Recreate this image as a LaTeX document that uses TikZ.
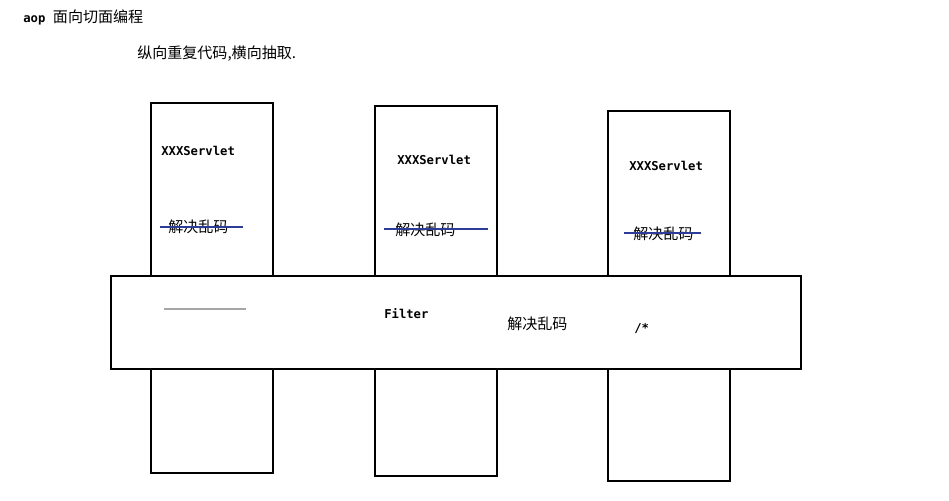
\documentclass[tikz,border=0pt]{standalone}
\usepackage{fontspec}
\usetikzlibrary{positioning}
\newfontfamily\cjk{Noto Sans CJK SC}
\newfontfamily\codefont{DejaVu Sans Mono}
\definecolor{strikeblue}{RGB}{45,60,150}
\begin{document}
\begin{tikzpicture}[x=0.25mm, y=-0.25mm,
                box/.style = {draw, line width=0.8pt},
                zh/.style = {font=\cjk\fontsize{10.7}{12}\selectfont, inner sep=0pt, anchor=west},
                code/.style = {font=\codefont\bfseries\fontsize{8.7}{10}\selectfont, inner sep=0pt, anchor=west},
                strike/.style = {draw=strikeblue, line width=0.8pt}
                ]
                \useasboundingbox (0,0) rectangle (949,501);
                % title
                \node[code, anchor=base west] (aop) at (23,23) {aop};
                \node[zh, base right=5pt of aop] (title) {面向切面编程};
                \node[zh] (note) at (137,54) {纵向重复代码,横向抽取.};
                % servlets
                \draw[box] (151,103) rectangle (273,473);
                \draw[box] (375,106) rectangle (497,476);
                \draw[box] (608,111) rectangle (730,481);
                \node[code] (s1) at (161,151) {XXXServlet};
                \node[code] (s2) at (397,160) {XXXServlet};
                \node[code] (s3) at (629,166) {XXXServlet};
                \node[zh] (e1) at (168,227) {解决乱码};
                \node[zh] (e2) at (395,230) {解决乱码};
                \node[zh] (e3) at (633,234) {解决乱码};
                \draw[strike] (160,227) -- (243,227);
                \draw[strike] (384,229) -- (488,229);
                \draw[strike] (624,233) -- (701,233);
                % filter
                \draw[box, fill=white] (111,276) rectangle (801,369);
                \draw[gray!70, line width=0.8pt] (164,309) -- (246,309);
                \node[code] (filter) at (384,314) {Filter};
                \node[zh] (ef) at (507,324) {解决乱码};
                \node[code] (pattern) at (634,329) {/*};
\end{tikzpicture}
\end{document}
